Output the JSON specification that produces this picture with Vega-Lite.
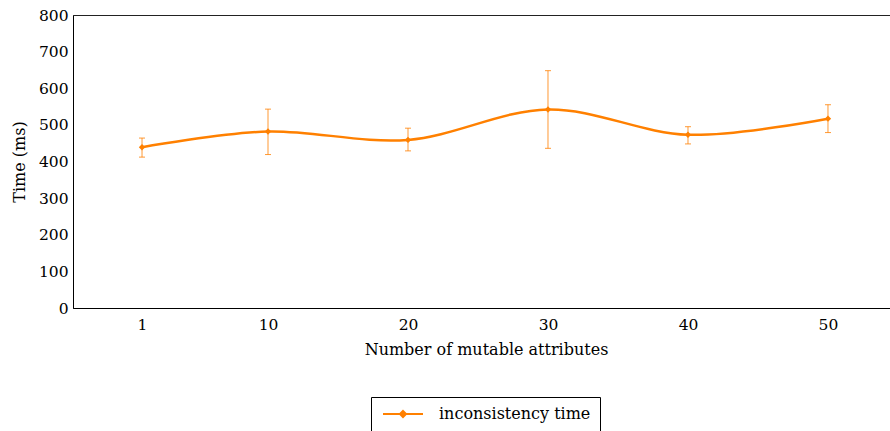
{
  "$schema": "https://vega.github.io/schema/vega-lite/v6.json",
  "autosize": "none",
  "padding": {"left": 73, "top": 15, "right": 0, "bottom": 123},
  "width": 817,
  "height": 293,
  "config": {
    "font": "DejaVu Serif",
    "view": {"stroke": "#222", "strokeWidth": 1},
    "axis": {
      "labelFont": "DejaVu Serif",
      "titleFont": "DejaVu Serif",
      "labelFontSize": 15.5,
      "titleFontSize": 16,
      "labelColor": "#000",
      "titleColor": "#000",
      "titleFontWeight": "normal",
      "gridColor": "#c4c4c4",
      "gridWidth": 1,
      "gridOpacity": 1,
      "domainColor": "#000",
      "ticks": false
    }
  },
  "data": {
    "values": [
      {"attrs": 1, "time": 439, "lo": 412, "hi": 464, "series": "inconsistency time"},
      {"attrs": 10, "time": 482, "lo": 419, "hi": 543, "series": "inconsistency time"},
      {"attrs": 20, "time": 459, "lo": 429, "hi": 491, "series": "inconsistency time"},
      {"attrs": 30, "time": 542, "lo": 436, "hi": 648, "series": "inconsistency time"},
      {"attrs": 40, "time": 473, "lo": 448, "hi": 495, "series": "inconsistency time"},
      {"attrs": 50, "time": 517, "lo": 479, "hi": 555, "series": "inconsistency time"}
    ]
  },
  "resolve": {"axis": {"x": "independent", "y": "independent"}},
  "layer": [
    {
      "mark": {"type": "rule", "strokeWidth": 1, "color": "#ff8000", "opacity": 0.8},
      "encoding": {
        "x": {"field": "attrs", "type": "quantitative", "axis": null},
        "y": {"field": "lo", "type": "quantitative", "axis": null},
        "y2": {"field": "hi"}
      }
    },
    {
      "mark": {"type": "tick", "orient": "horizontal", "size": 6, "thickness": 1, "color": "#ff8000", "opacity": 0.8},
      "encoding": {
        "x": {"field": "attrs", "type": "quantitative", "axis": null},
        "y": {"field": "lo", "type": "quantitative", "axis": null}
      }
    },
    {
      "mark": {"type": "tick", "orient": "horizontal", "size": 6, "thickness": 1, "color": "#ff8000", "opacity": 0.8},
      "encoding": {
        "x": {"field": "attrs", "type": "quantitative", "axis": null},
        "y": {"field": "hi", "type": "quantitative", "axis": null}
      }
    },
    {
      "mark": {"type": "line", "interpolate": "cardinal", "strokeWidth": 2.5},
      "encoding": {
        "x": {
          "field": "attrs", "type": "quantitative",
          "scale": {"domain": [-3.93, 54.43], "nice": false, "zero": false},
          "axis": {"values": [1, 10, 20, 30, 40, 50], "title": "Number of mutable attributes", "labelPadding": 9, "titlePadding": 9, "titleX": 413, "labelFlush": false}
        },
        "y": {
          "field": "time", "type": "quantitative",
          "scale": {"domain": [0, 800], "nice": false},
          "axis": {"values": [0, 100, 200, 300, 400, 500, 600, 700, 800], "title": "Time (ms)", "labelPadding": 5, "titlePadding": 11, "labelFlush": false}
        },
        "color": {
          "field": "series", "type": "nominal",
          "scale": {"range": ["#ff8000"]},
          "legend": {
            "orient": "none",
            "legendX": 298,
            "legendY": 382,
            "title": null,
            "strokeColor": "#000",
            "fillColor": "#fff",
            "padding": 9,
            "symbolType": "M-4,0H4M0,-0.6L0.6,0L0,0.6L-0.6,0Z",
            "symbolSize": 100,
            "symbolOffset": 15,
            "symbolStrokeWidth": 2,
            "symbolFillColor": "#ff8000",
            "symbolStrokeColor": "#ff8000",
            "labelFont": "DejaVu Serif",
            "labelFontSize": 16,
            "labelColor": "#000",
            "labelOffset": 28
          }
        }
      }
    },
    {
      "mark": {"type": "point", "shape": "diamond", "filled": true, "size": 40, "opacity": 1},
      "encoding": {
        "x": {"field": "attrs", "type": "quantitative", "axis": null},
        "y": {"field": "time", "type": "quantitative", "axis": null},
        "color": {"field": "series", "type": "nominal"}
      }
    }
  ]
}
